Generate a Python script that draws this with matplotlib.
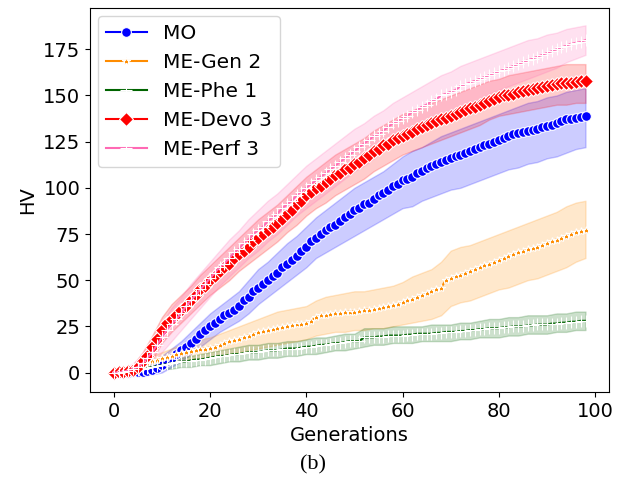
import matplotlib
matplotlib.use("Agg")
import matplotlib.pyplot as plt
import numpy as np

# generations 0..98
gens = np.arange(99)
band_gens = np.arange(0, 99, 2)

mo = [0, 0, 0, 0, 0.2, 0.3, 0.5, 0.8, 1.5, 2.5,
      4, 6, 8, 10, 12, 14, 16, 18, 21, 23,
      25, 27, 29, 31, 32, 34, 36, 39, 41, 44,
      46, 48, 50, 52, 54, 57, 59, 61, 63, 66,
      68, 71, 73, 75, 77, 79, 80, 82, 84, 86,
      88, 89, 91, 92, 94, 96, 97, 99, 101, 102,
      104, 105, 106, 108, 109, 111, 112, 113, 114, 115,
      116, 117, 118, 119, 120, 121, 122, 123, 124, 125,
      126, 127, 128, 129, 129.5, 130, 131, 131.5, 132, 133,
      133.5, 134, 135, 136, 137, 137.5, 138, 138.5, 139]
gen2 = [0, 0, 0.5, 1, 2, 3, 4, 5, 6, 7,
        8, 8.5, 9, 10, 10.5, 11, 11.5, 12, 12.5, 13,
        13.5, 14, 15, 16, 17, 17.5, 18, 19, 20, 21,
        22, 22.5, 23, 23.5, 24, 24.5, 25, 25.5, 26, 26,
        27, 28, 30, 31, 31, 31.5, 32, 32, 32.5, 33,
        33, 33.5, 34, 34, 34.5, 35, 35.5, 36, 36.5, 37,
        38, 39, 40, 41, 42, 43, 44, 45, 46, 50,
        51, 52, 53, 54, 55, 56, 57, 58, 59, 60,
        61, 62, 63, 64, 65, 66, 67, 67.5, 68, 69,
        70, 71, 72, 73, 74, 75, 76, 76.5, 77]
phe1 = [0, 0, 0, 0.5, 1, 1.5, 2, 2.5, 3, 3.5,
        4, 4.5, 5, 5.5, 6, 6, 6.5, 7, 7, 7.5,
        8, 8.5, 9, 9, 9.5, 10, 10, 10.5, 11, 11,
        11, 11.5, 12, 12, 12, 12.5, 13, 13, 13, 13.5,
        14, 14, 14.5, 15, 15, 15.5, 16, 16, 16.5, 17,
        17, 17, 19, 19, 19, 19.5, 19.5, 20, 20, 20,
        20, 20.5, 20.5, 21, 21, 21, 21, 21.5, 21.5, 22,
        22, 22, 22.5, 22.5, 23, 23, 23.5, 23.5, 24, 24,
        24, 24.5, 24.5, 25, 25, 25, 25.5, 25.5, 26, 26,
        26, 26.5, 26.5, 27, 27, 27.5, 27.5, 28, 28]
devo3 = [0, 0.3, 0.5, 1, 1.5, 3, 6, 9, 14, 18,
         23, 27, 29, 31, 34, 36, 39, 42, 45, 47,
         50, 52, 55, 57, 59, 62, 64, 66, 68, 71,
         73, 75, 77, 79, 81, 83, 86, 88, 91, 93,
         96, 98, 100, 101, 103, 105, 107, 108, 110, 111,
         113, 114, 116, 118, 120, 121, 123, 124, 126, 127,
         128, 129, 130, 132, 133, 134, 135, 136, 137, 138,
         139, 140, 141, 142, 143, 144, 145, 146, 147, 148,
         149, 150, 150.5, 151, 152, 152.5, 153, 153.5, 154, 154.5,
         155, 155.5, 156, 156.5, 157, 157, 157.5, 158, 158]
perf3 = [0, 0, 0.5, 1, 2, 3, 5, 8, 11, 15,
         19, 23, 26, 29, 32, 36, 39, 42, 45, 48,
         51, 54, 57, 59, 62, 65, 67, 70, 72, 75,
         77, 79, 82, 84, 86, 89, 91, 93, 96, 98,
         100, 102, 104, 106, 108, 110, 112, 114, 116, 118,
         120, 122, 124, 126, 128, 129, 131, 133, 135, 136,
         138, 139, 141, 142, 144, 145, 147, 148, 150, 151,
         152, 153, 155, 156, 157, 158, 159, 160, 161, 162,
         163, 164, 165, 166, 167, 168, 169, 170, 171, 172,
         173, 174, 175, 176, 177, 178, 178.5, 179, 180]

# spread bands, read at every second generation
mo_lo = [-1, -1, -1, -1, -1, 0, 3, 6, 10, 14, 18, 22, 25, 28, 32, 37, 41, 45, 49, 53,
         57, 62, 65, 68, 71, 74, 77, 80, 83, 86, 89, 90, 93, 95, 97, 99, 100, 102, 104, 106,
         108, 110, 111, 113, 114, 116, 117, 119, 121, 122]
mo_hi = [1, 1, 1.5, 2.5, 5, 9, 13, 17, 22, 27, 32, 36, 40, 44, 50, 56, 60, 65, 70, 74,
         79, 84, 88, 92, 96, 100, 103, 106, 109, 113, 117, 120, 122, 125, 128, 130, 132, 134, 136, 138,
         140, 142, 144, 146, 147, 149, 150, 152, 153, 154]
gen2_lo = [-1, -1, 0, 1, 3, 4, 5, 6, 7, 7, 8, 9, 10, 11, 12, 13, 14, 15, 16, 17,
           18, 20, 21, 22, 22, 23, 23, 24, 24, 25, 26, 27, 28, 29, 31, 36, 38, 39, 41, 43,
           45, 46, 48, 50, 51, 53, 55, 57, 60, 62]
gen2_hi = [1, 2, 4, 7, 9, 11, 13, 15, 16, 18, 19, 21, 23, 25, 27, 29, 31, 33, 34, 35,
           36, 39, 41, 42, 43, 44, 44, 45, 46, 47, 49, 52, 54, 56, 60, 66, 68, 69, 71, 73,
           75, 77, 79, 81, 83, 85, 87, 90, 92, 93]
phe1_lo = [-1, -1, -1, 0, 1, 2, 2, 3, 3, 4, 4, 5, 6, 6, 7, 7, 8, 8, 9, 9,
           10, 10, 11, 12, 12, 13, 14, 15, 15, 16, 16, 16, 17, 17, 17, 17, 18, 18, 19, 19,
           19, 20, 20, 21, 21, 21, 22, 22, 23, 23]
phe1_hi = [1, 1, 3, 4, 5, 6, 7, 8, 9, 10, 11, 12, 13, 14, 15, 15, 16, 16, 17, 17,
           18, 19, 19, 20, 21, 21, 24, 24, 24, 25, 25, 25, 25, 26, 26, 26, 27, 27, 28, 29,
           29, 30, 30, 31, 31, 31, 32, 32, 33, 33]
devo3_lo = [-1, -1, -1, 1, 7, 16, 22, 27, 32, 37, 42, 46, 50, 55, 59, 63, 67, 71, 76, 80,
            85, 89, 92, 96, 99, 102, 105, 109, 112, 115, 118, 120, 122, 124, 126, 128, 130, 132, 134, 137,
            139, 140, 141, 142, 143, 144, 145, 145, 146, 146]
devo3_hi = [1, 2, 4, 11, 20, 30, 37, 42, 47, 53, 58, 63, 68, 73, 78, 83, 87, 91, 96, 101,
            106, 110, 114, 118, 121, 124, 127, 131, 134, 137, 140, 142, 144, 146, 148, 150, 152, 154, 156, 158,
            159, 161, 162, 163, 164, 165, 166, 167, 167, 167]
perf3_lo = [-1, -1, -1, 0, 4, 11, 17, 23, 29, 35, 41, 47, 52, 57, 62, 66, 71, 75, 80, 85,
            89, 93, 97, 101, 105, 109, 112, 116, 120, 124, 127, 130, 133, 136, 139, 141, 144, 146, 148, 151,
            153, 155, 157, 159, 161, 163, 165, 168, 170, 172]
perf3_hi = [1, 2, 5, 10, 18, 27, 35, 41, 48, 54, 60, 66, 72, 77, 83, 88, 93, 97, 102, 107,
            112, 116, 120, 124, 128, 132, 135, 139, 142, 146, 149, 152, 155, 158, 161, 163, 166, 168, 170, 172,
            174, 176, 178, 180, 181, 183, 184, 186, 187, 188]

labels = ["MO", "ME-Gen 2", "ME-Phe 1", "ME-Devo 3", "ME-Perf 3"]
colors = ["blue", "darkorange", "darkgreen", "red", "hotpink"]
markers = ["o", "*", "+", "D", "+"]
msizes = [7, 6, 8, 7, 8]
means = [mo, gen2, phe1, devo3, perf3]
lows = [mo_lo, gen2_lo, phe1_lo, devo3_lo, perf3_lo]
highs = [mo_hi, gen2_hi, phe1_hi, devo3_hi, perf3_hi]

fig = plt.figure(figsize=(6.26, 4.91), dpi=100)
ax = fig.add_axes([0.144, 0.202, 0.829, 0.782])

for i in range(5):
    ax.plot(gens, means[i], color=colors[i], marker=markers[i], markersize=msizes[i],
            markeredgecolor="white", markeredgewidth=0.8, linewidth=1.5, label=labels[i])
    ax.fill_between(band_gens, lows[i], highs[i], color=colors[i], alpha=0.2)

ax.set_xticks([0, 20, 40, 60, 80, 100])
ax.set_yticks([0, 25, 50, 75, 100, 125, 150, 175])
ax.tick_params(labelsize=14)
ax.set_xlabel("Generations", fontsize=14)
ax.set_ylabel("HV", fontsize=14)
ax.legend(loc="upper left", fontsize=14.5, borderaxespad=0.4)

fig.text(0.5, 0.053, "(b)", ha="center", va="center", fontsize=16, family="Liberation Serif")

plt.savefig("out.png", dpi=100)
